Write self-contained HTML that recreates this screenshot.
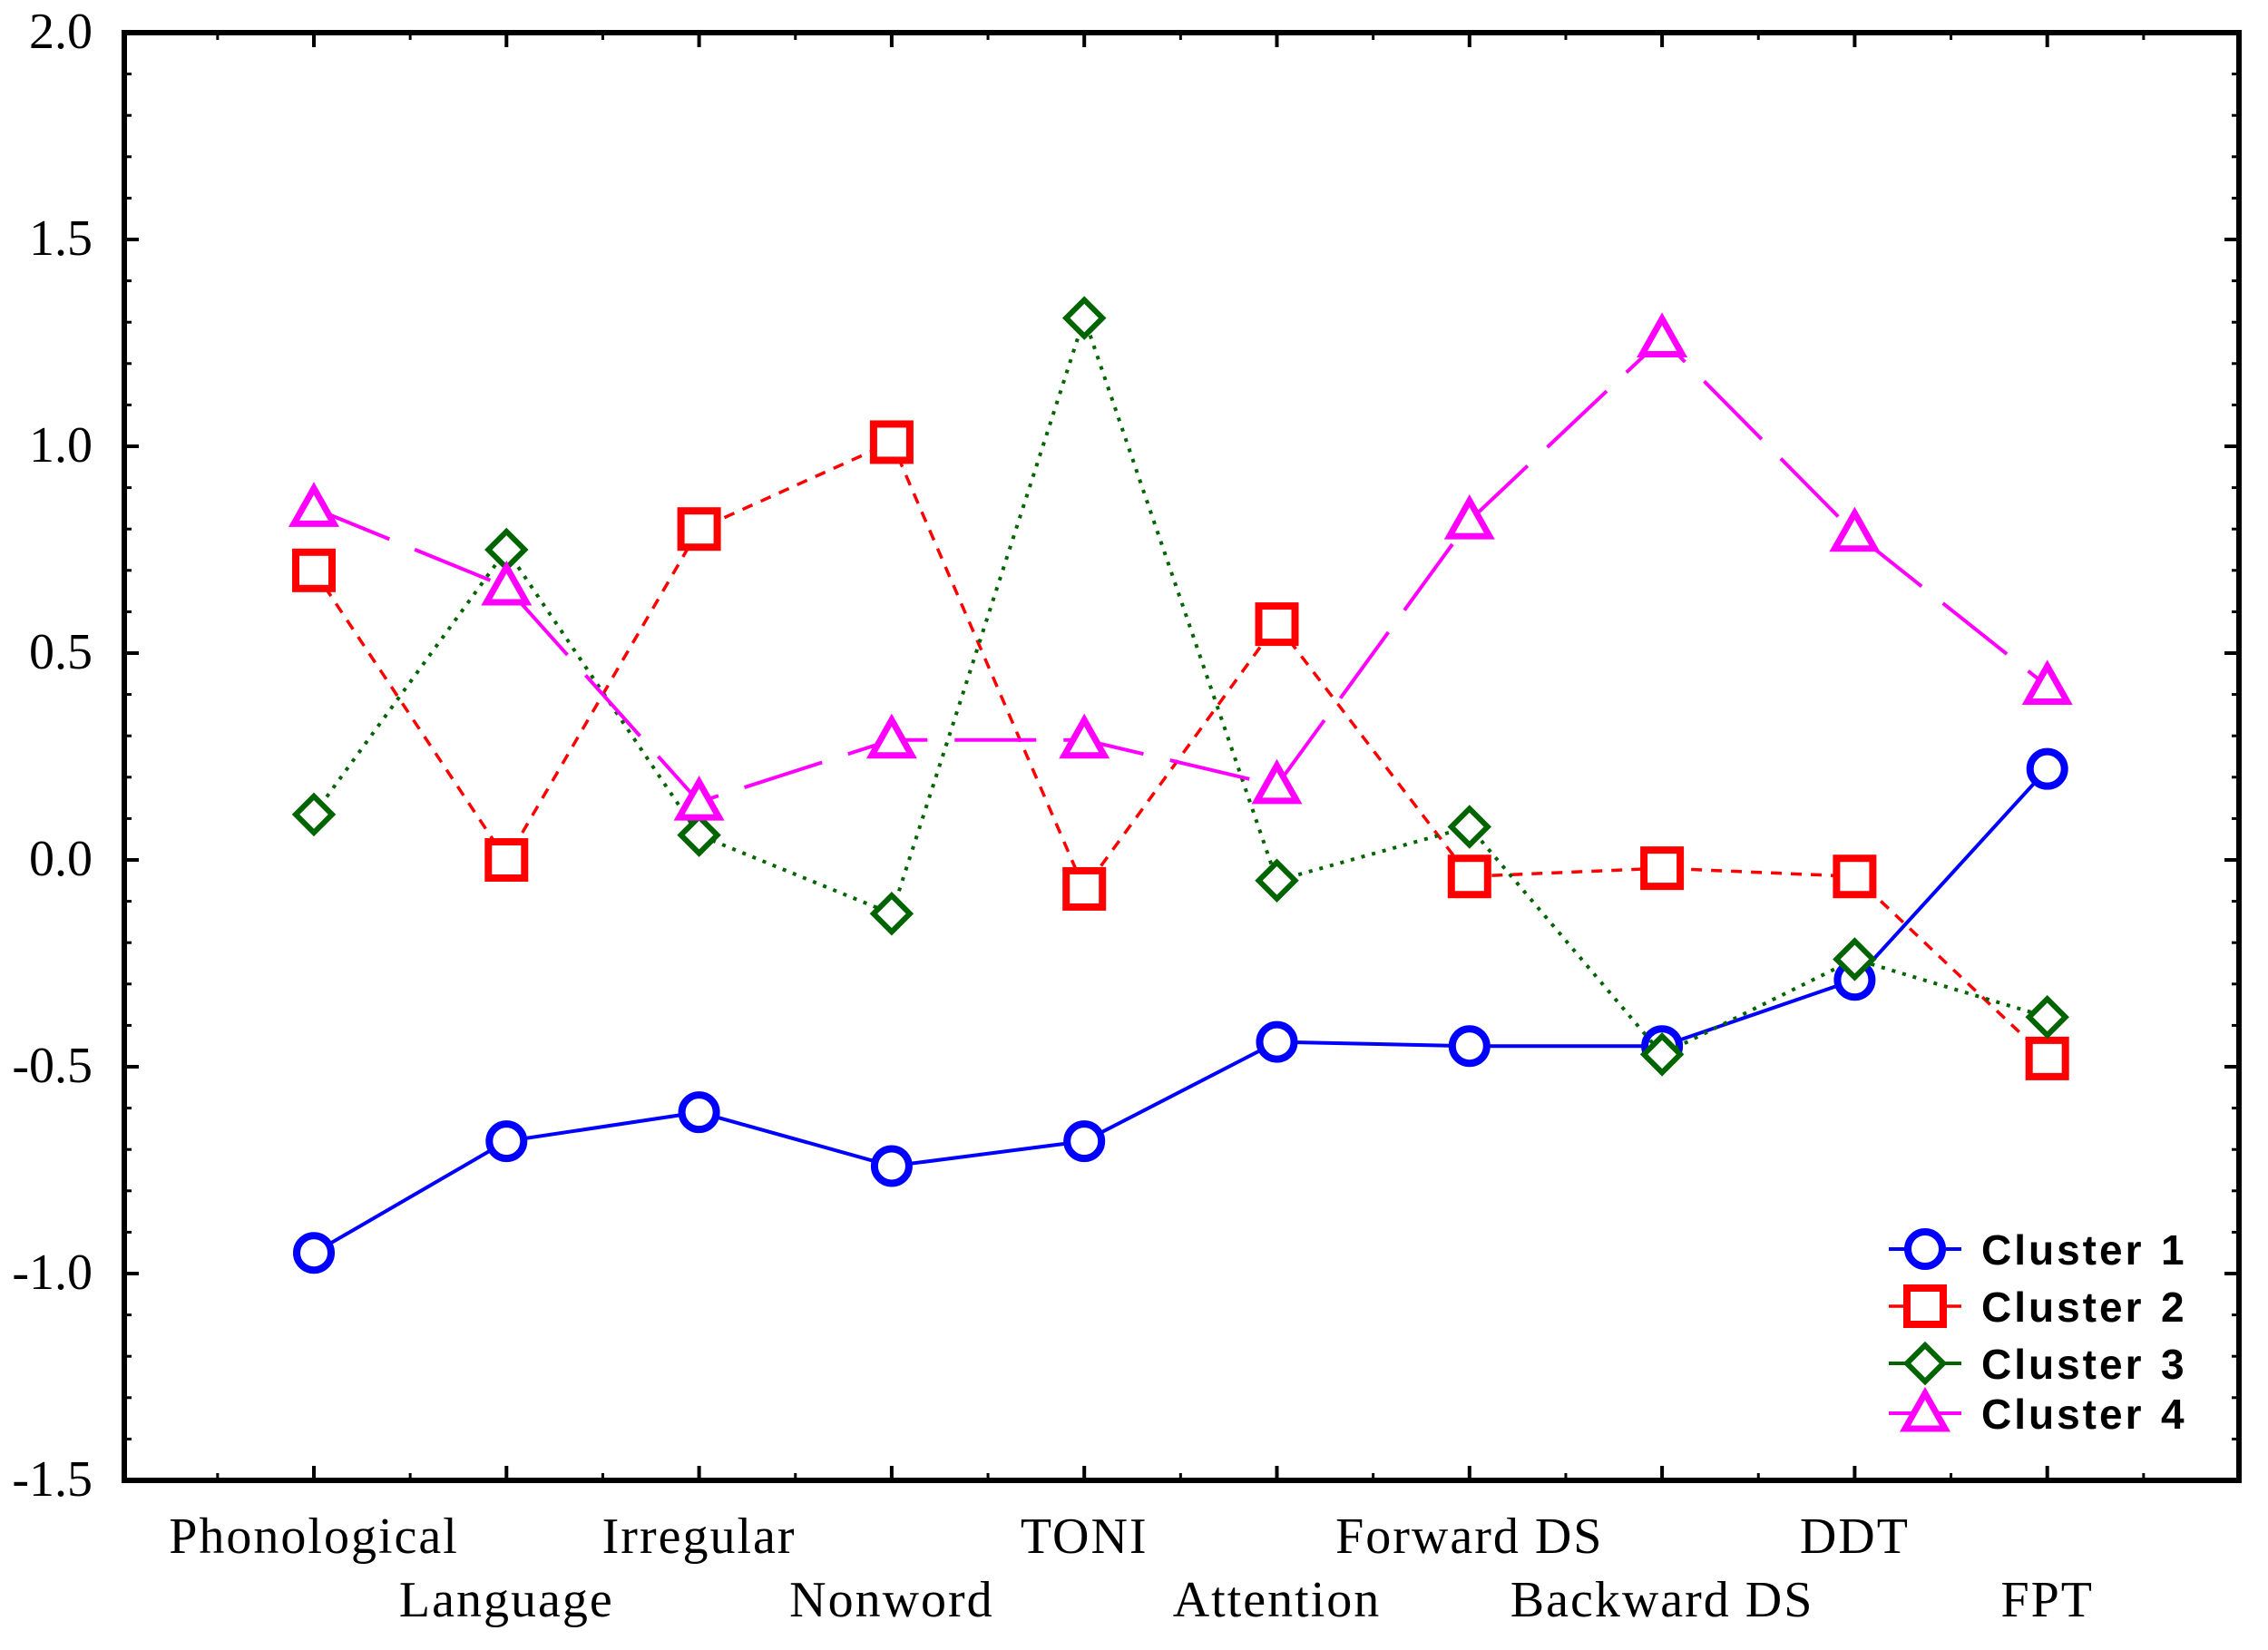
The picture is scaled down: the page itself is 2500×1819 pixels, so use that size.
<!DOCTYPE html>
<html><head><meta charset="utf-8"><style>html,body{margin:0;padding:0;background:#fff}svg{display:block}</style></head>
<body>
<svg id="chart" width="2500" height="1819" viewBox="0 0 2500 1819" xmlns="http://www.w3.org/2000/svg" font-family="Liberation Serif, serif"></svg>
<script>
const categories = ["Phonological","Language","Irregular","Nonword","TONI","Attention","Forward DS","Backward DS","DDT","FPT"];
const yTicks = [2.0,1.5,1.0,0.5,0.0,-0.5,-1.0,-1.5];
const yTickLabels = ["2.0","1.5","1.0","0.5","0.0","-0.5","-1.0","-1.5"];
const cluster1 = [-0.95,-0.68,-0.61,-0.74,-0.68,-0.44,-0.45,-0.45,-0.29,0.22];
const cluster2 = [0.70,0.00,0.80,1.01,-0.07,0.57,-0.04,-0.02,-0.04,-0.48];
const cluster3 = [0.11,0.75,0.06,-0.13,1.31,-0.05,0.08,-0.47,-0.24,-0.38];
const cluster4 = [0.85,0.66,0.14,0.29,0.29,0.18,0.82,1.26,0.79,0.42];
const seriesNames = ["Cluster","Cluster","Cluster","Cluster"];
const seriesNums = ["1","2","3","4"];

const svg = document.getElementById('chart');
const NS = 'http://www.w3.org/2000/svg';
const L=137,R=2468,T=36,B=1632, yMin=-1.5,yMax=2.0;
const x0=346, dx=212.3;
function xs(i){return x0+i*dx;}
function ys(v){return B-(v-yMin)/(yMax-yMin)*(B-T);}
function mk(tag,attrs,parent){const e=document.createElementNS(NS,tag);for(const k in attrs)e.setAttribute(k,attrs[k]);(parent||svg).appendChild(e);return e;}

const frame=mk('rect',{x:L,y:T,width:R-L,height:B-T,fill:'none',stroke:'#000','stroke-width':6});



for(let v=yMin; v<=yMax+1e-9; v+=0.1){
  const y=ys(v);
  const m1=mk('line',{x1:L,x2:L+8,y1:y,y2:y,stroke:'#000','stroke-width':3});
  
  
  const m2=mk('line',{x1:R,x2:R-8,y1:y,y2:y,stroke:'#000','stroke-width':3});
  
  
}
for(let k=-1;k<=2*categories.length;k++){
  const x=x0+k*dx/2;
  if(x<=L||x>=R) continue;
  const m1=mk('line',{x1:x,x2:x,y1:B,y2:B-8,stroke:'#000','stroke-width':3});
  
  
  const m2=mk('line',{x1:x,x2:x,y1:T,y2:T+8,stroke:'#000','stroke-width':3});
  
  
}

yTicks.forEach((v,i)=>{
  const y=ys(v);
  const t=mk('line',{x1:L,x2:L+16,y1:y,y2:y,stroke:'#000','stroke-width':4});
  
  
  const t2=mk('line',{x1:R,x2:R-16,y1:y,y2:y,stroke:'#000','stroke-width':4});
  
  
  const lb=mk('text',{x:102,y:y+17,'text-anchor':'end','font-size':56,fill:'#000'});
  lb.textContent=yTickLabels[i];
  
  
});
categories.forEach((c,i)=>{
  const x=xs(i);
  const t=mk('line',{x1:x,x2:x,y1:B,y2:B-16,stroke:'#000','stroke-width':4});
  
  
  const t2=mk('line',{x1:x,x2:x,y1:T,y2:T+16,stroke:'#000','stroke-width':4});
  
  
  const lb=mk('text',{x:x,y:i%2===0?1712:1782,'text-anchor':'middle','font-size':56,'letter-spacing':2,fill:'#000'});
  lb.textContent=c;
  
  
});

const styles=[
  {data:cluster1,color:'#0000ff',dash:'',w:4,m:'circle'},
  {data:cluster2,color:'#ff0000',dash:'12,10',w:3.5,m:'square'},
  {data:cluster3,color:'#006400',dash:'4,8',w:4,m:'diamond'},
  {data:cluster4,color:'#ff00ff',dash:'90,30',w:4,m:'triangle'}
];
function marker(type,x,y,color,g){
  let e;
  if(type==='circle') e=mk('circle',{cx:x,cy:y,r:19,fill:'#fff',stroke:color,'stroke-width':8},g);
  else if(type==='square') e=mk('rect',{x:x-20,y:y-20,width:40,height:40,fill:'#fff',stroke:color,'stroke-width':8},g);
  else if(type==='diamond') e=mk('polygon',{points:`${x},${y-20} ${x+20},${y} ${x},${y+20} ${x-20},${y}`,fill:'#fff',stroke:color,'stroke-width':6},g);
  else e=mk('polygon',{points:`${x},${y-22} ${x+22},${y+17} ${x-22},${y+17}`,fill:'#fff',stroke:color,'stroke-width':7},g);
  return e;
}
styles.forEach((s,si)=>{
  const g=mk('g',{});
  
  
  const pts=s.data.map((v,i)=>xs(i)+','+ys(v)).join(' ');
  const pl=mk('polyline',{points:pts,fill:'none',stroke:s.color,'stroke-width':s.w,'stroke-dasharray':s.dash},g);
  
  
  s.data.forEach((v,i)=>{
    const m=marker(s.m,xs(i),ys(v),s.color,g);
    
    
  });
});
const lg=mk('g',{});


const ly=[1377,1440,1503,1558];
styles.forEach((s,si)=>{
  const g=mk('g',{},lg);
  
  
  const ln=mk('line',{x1:2082,x2:2162,y1:ly[si],y2:ly[si],stroke:s.color,'stroke-width':s.w},g);
  
  
  const m=marker(s.m,2122,ly[si],s.color,g);
  
  
  const t=mk('text',{x:2184,y:ly[si]+17,'font-family':'Liberation Sans, sans-serif','font-size':46,'font-weight':'bold','letter-spacing':3,fill:'#000'},g);
  t.textContent=seriesNames[si];
  
  
  const n=mk('text',{x:2382,y:ly[si]+17,'font-family':'Liberation Sans, sans-serif','font-size':46,'font-weight':'bold',fill:'#000'},g);
  n.textContent=seriesNums[si];
  
  
});
</script>
</body></html>
